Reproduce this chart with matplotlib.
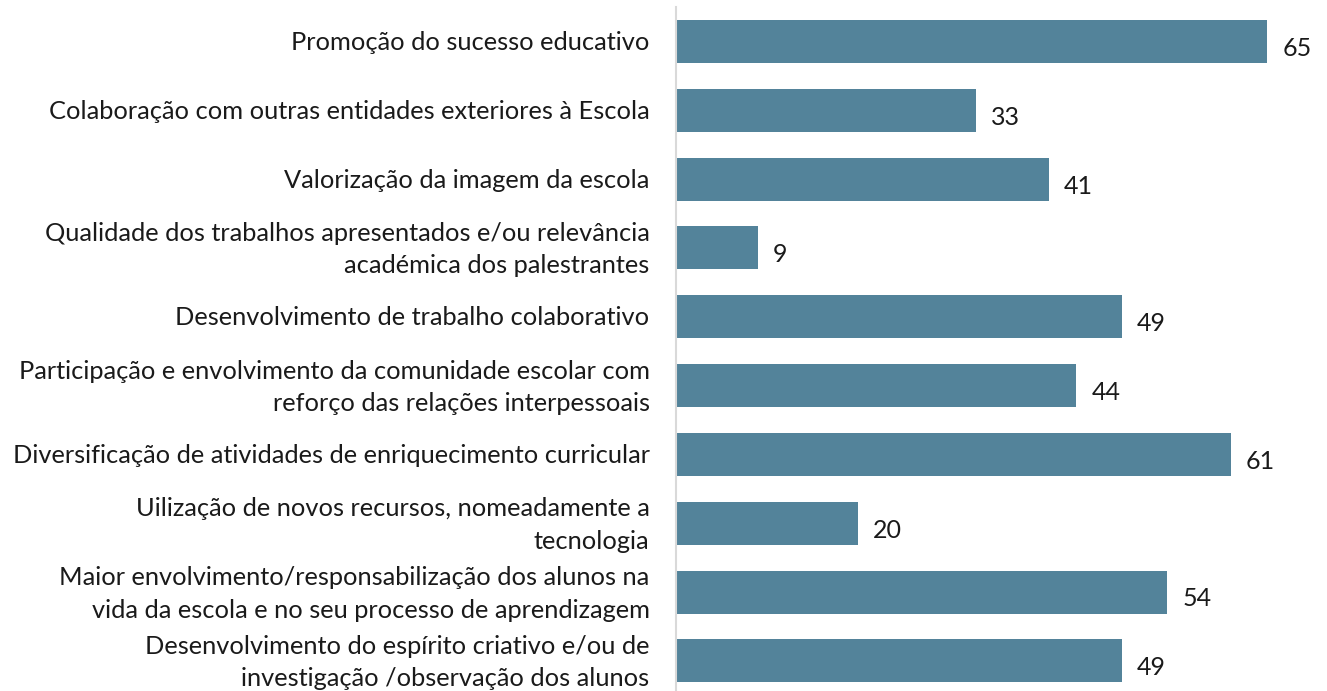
import matplotlib
matplotlib.use("Agg")
import matplotlib.pyplot as plt
import matplotlib.transforms as mtransforms

plt.rcParams['font.family'] = ['Lato', 'DejaVu Sans']

categories = [
    "Promoção do sucesso educativo",
    "Colaboração com outras entidades exteriores à Escola",
    "Valorização da imagem da escola",
    "Qualidade dos trabalhos apresentados e/ou relevância\nacadémica dos palestrantes",
    "Desenvolvimento de trabalho colaborativo",
    "Participação e envolvimento da comunidade escolar com\nreforço das relações interpessoais",
    "Diversificação de atividades de enriquecimento curricular",
    "Uilização de novos recursos, nomeadamente a\ntecnologia",
    "Maior envolvimento/responsabilização dos alunos na\nvida da escola e no seu processo de aprendizagem",
    "Desenvolvimento do espírito criativo e/ou de\ninvestigação /observação dos alunos",
]
values = [65, 33, 41, 9, 49, 44, 61, 20, 54, 49]

W, H = 1327, 691
fig = plt.figure(figsize=(W / 100, H / 100), dpi=100)
ax = fig.add_axes([676 / W, 0, 1 - 676 / W, 1 - 7 / H])

pos = list(range(len(categories)))
bars = ax.barh(pos, values, height=0.625, color='#53839a')
ax.set_ylim(-0.5 + 684 / 68.83, -0.5)
ax.set_xlim(0, 71.6)

ax.set_yticks(pos)
ax.set_yticklabels(categories, fontsize=18.3, color='#1a1a1a', linespacing=1.5)
ax.tick_params(axis='y', length=0, pad=19)
ax.set_xticks([])

# nudge labels up a little (two-line ones more)
for lab in ax.get_yticklabels():
    dy = 5 if '\n' in lab.get_text() else 1
    lab.set_transform(lab.get_transform() +
                      mtransforms.ScaledTranslation(0, dy / 100, fig.dpi_scale_trans))

for s in ['top', 'right', 'bottom']:
    ax.spines[s].set_visible(False)
ax.spines['left'].set_color('#d9d9d9')
ax.spines['left'].set_linewidth(1.5)

for b, v in zip(bars, values):
    ax.annotate(str(v), (b.get_width(), b.get_y() + b.get_height() / 2),
                xytext=(11, -5), textcoords='offset points',
                va='center', ha='left', fontsize=18, color='#1a1a1a')

fig.savefig('out.png', dpi=100)
